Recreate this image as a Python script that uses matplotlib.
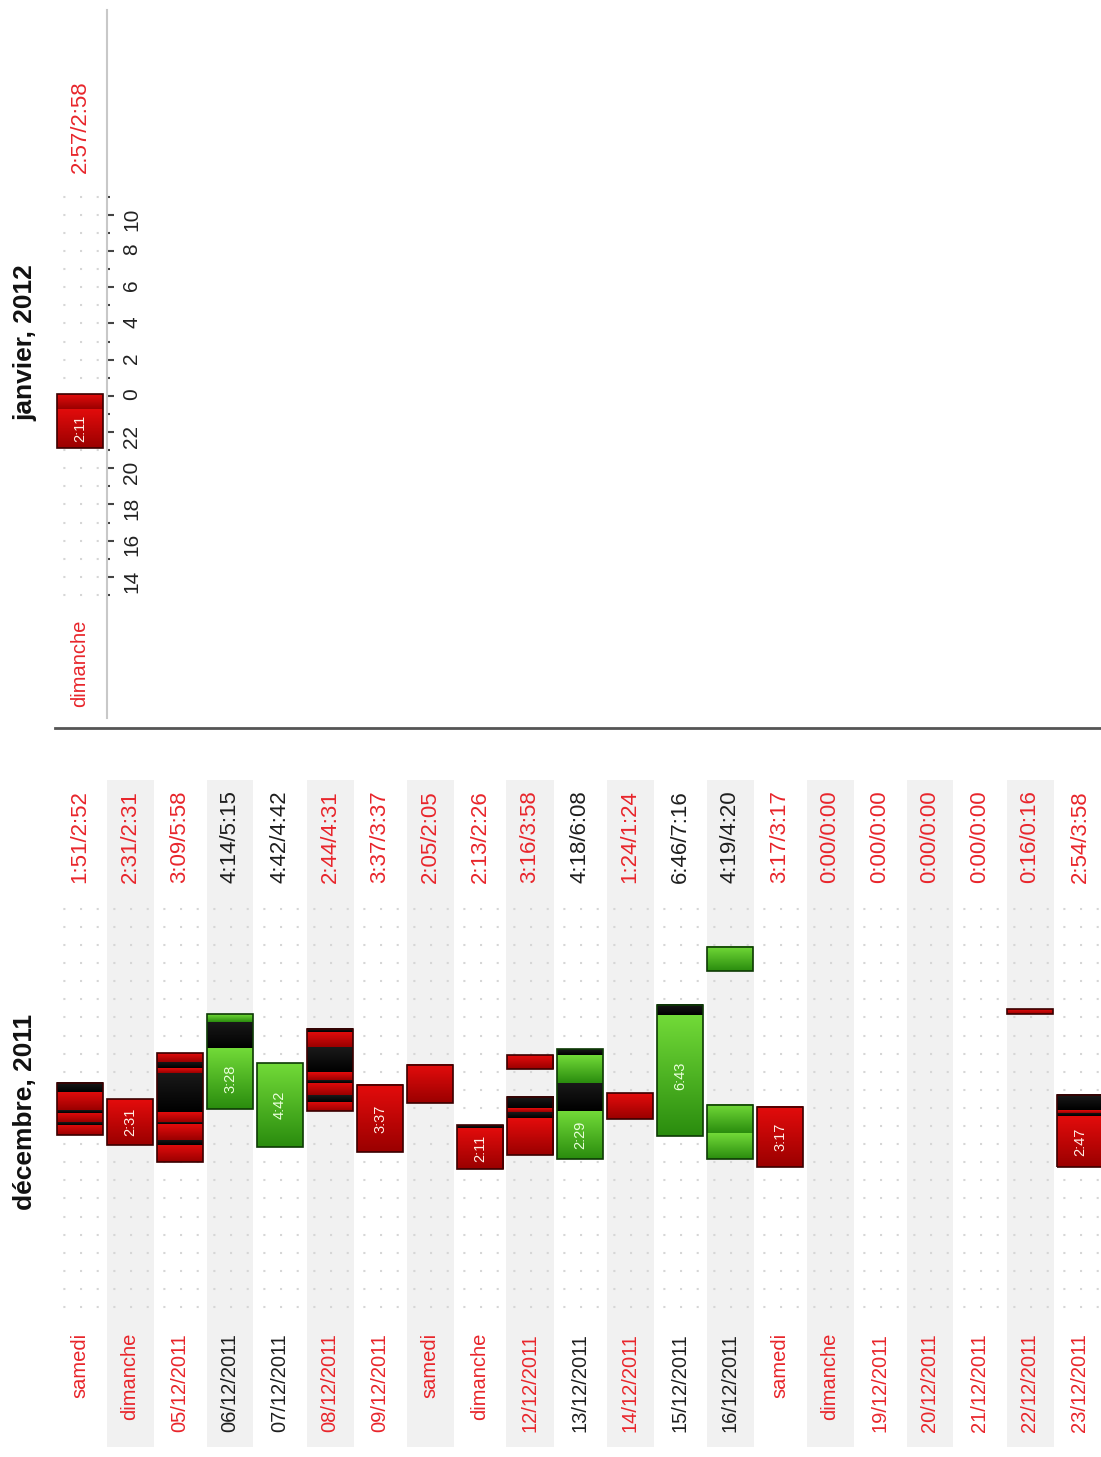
import numpy as np
import matplotlib
matplotlib.use("Agg")
import matplotlib.pyplot as plt
from matplotlib.colors import LinearSegmentedColormap
from matplotlib.transforms import blended_transform_factory
from matplotlib.lines import Line2D

plt.rcParams['font.family'] = ['Liberation Sans', 'DejaVu Sans']

# ---------------- data ----------------
dec_title = 'décembre, 2011'
dec_days = ['samedi', 'dimanche', '05/12/2011', '06/12/2011', '07/12/2011', '08/12/2011',
            '09/12/2011', 'samedi', 'dimanche', '12/12/2011', '13/12/2011', '14/12/2011',
            '15/12/2011', '16/12/2011', 'samedi', 'dimanche', '19/12/2011', '20/12/2011',
            '21/12/2011', '22/12/2011', '23/12/2011']
dec_totals = ['1:51/2:52', '2:31/2:31', '3:09/5:58', '4:14/5:15', '4:42/4:42', '2:44/4:31',
              '3:37/3:37', '2:05/2:05', '2:13/2:26', '3:16/3:58', '4:18/6:08', '1:24/1:24',
              '6:46/7:16', '4:19/4:20', '3:17/3:17', '0:00/0:00', '0:00/0:00', '0:00/0:00',
              '0:00/0:00', '0:16/0:16', '2:54/3:58']
dec_ok = [0, 0, 0, 1, 1, 0, 0, 0, 0, 0, 1, 0, 1, 1, 0, 0, 0, 0, 0, 0, 0]

# sleep segments (hours counted from midnight of the previous day; 24 = midnight)
dec_seg_day = [0, 0, 0, 0, 0, 0,
               1,
               2, 2, 2, 2, 2, 2, 2, 2, 2,
               3, 3, 3,
               4,
               5, 5, 5, 5, 5, 5, 5, 5,
               6,
               7,
               8, 8,
               9, 9, 9, 9, 9,
               10, 10, 10, 10,
               11,
               12, 12,
               13, 13, 13,
               14,
               19,
               20, 20, 20, 20]
dec_seg_start = [22.50, 23.06, 23.22, 23.72, 23.88, 24.88,
                 21.95,
                 21.01, 21.95, 22.23, 23.11, 23.22, 23.77, 25.93, 26.20, 26.54,
                 23.94, 27.31, 28.75,
                 21.84,
                 23.83, 24.33, 24.71, 25.38, 25.54, 25.98, 27.36, 28.19,
                 21.56,
                 24.27,
                 20.62, 22.90,
                 21.40, 23.44, 23.77, 23.99, 26.15,
                 21.18, 23.83, 25.38, 26.92,
                 23.39,
                 22.45, 29.13,
                 21.18, 22.61, 31.56,
                 20.73,
                 29.20,
                 20.73, 23.55, 23.72, 23.88]
dec_seg_end = [23.06, 23.22, 23.72, 23.88, 24.88, 25.38,
               24.49,
               21.95, 22.23, 23.11, 23.22, 23.77, 25.93, 26.20, 26.54, 27.03,
               27.31, 28.75, 29.19,
               26.48,
               24.33, 24.71, 25.38, 25.54, 25.98, 27.36, 28.19, 28.36,
               25.27,
               26.37,
               22.90, 23.06,
               23.44, 23.77, 23.99, 24.60, 26.92,
               23.83, 25.38, 26.92, 27.25,
               24.82,
               29.13, 29.69,
               22.61, 24.16, 32.89,
               24.05,
               29.47,
               23.55, 23.72, 23.88, 24.71]
dec_seg_kind = ['s', 'a', 's', 'a', 's', 'a',
                's',
                's', 'a', 's', 'a', 's', 'a', 's', 'a', 's',
                's', 'a', 's',
                's',
                's', 'a', 's', 'a', 's', 'a', 's', 'a',
                's',
                's',
                's', 'a',
                's', 'a', 's', 'a', 's',
                's', 'a', 's', 'a',
                's',
                's', 'a',
                's', 's', 's',
                's',
                's',
                's', 'a', 's', 'a']
dec_seg_label = ['', '', '', '', '', '',
                 '2:31',
                 '', '', '', '', '', '', '', '', '',
                 '3:28', '', '',
                 '4:42',
                 '', '', '', '', '', '', '', '',
                 '3:37',
                 '',
                 '2:11', '',
                 '', '', '', '', '',
                 '2:29', '', '', '',
                 '',
                 '6:43', '',
                 '', '', '',
                 '3:17',
                 '',
                 '2:47', '', '', '']

jan_title = 'janvier, 2012'
jan_days = ['dimanche']
jan_totals = ['2:57/2:58']
jan_ok = [0]
jan_seg_day = [0, 0]
jan_seg_start = [21.12, 23.30]
jan_seg_end = [23.30, 24.10]
jan_seg_kind = ['s', 's']
jan_seg_label = ['2:11', '']

hour_major = list(range(14, 35, 2))
hour_minor = list(range(13, 36))

# ---------------- styling ----------------
W, H = 1101, 1457
RED_TXT = '#e8252b'
BLK_TXT = '#1e1e1e'
cm_red = LinearSegmentedColormap.from_list('r', ['#9a0000', '#e40c0c'])
cm_green = LinearSegmentedColormap.from_list('g', ['#2a8c0e', '#72da38'])
cm_black = LinearSegmentedColormap.from_list('k', ['#000000', '#1a1a1a'])
grad = np.linspace(0, 1, 128).reshape(-1, 1)
BAR_W = 0.92

fig = plt.figure(figsize=(W / 100, H / 100), dpi=100)
fig.patch.set_facecolor('white')


def px_axes(x0, y0, x1, y1):
    """axes rectangle from pixel box (top-left origin)"""
    return fig.add_axes([x0 / W, 1 - y1 / H, (x1 - x0) / W, (y1 - y0) / H])


def draw_panel(ax, days, totals, ok, sd, ss, se, sk, sl, head_y, foot_y, stripes):
    n = len(days)
    trans = blended_transform_factory(ax.transData, ax.transAxes)
    if stripes:
        for i in range(n):
            if i % 2 == 1:
                ax.axvspan(i - 0.47, i + 0.47, color='#f1f1f1', lw=0, zorder=0)
    for h in hour_minor:
        ax.axhline(h, color='#d6d6d6', lw=1.5, ls=(4, (1, 7)), zorder=0.5)
    # segments with gradient fill
    for d, s, e, k, lab in zip(sd, ss, se, sk, sl):
        if k == 'a':
            cm = cm_black
        else:
            cm = cm_green if ok[d] else cm_red
        ax.imshow(grad, extent=(d - BAR_W / 2, d + BAR_W / 2, s, e), origin='lower',
                  aspect='auto', cmap=cm, vmin=0, vmax=1, interpolation='bilinear', zorder=2)
        if lab:
            ax.text(d, (s + e) / 2, lab, rotation=90, ha='center', va='center',
                    fontsize=10.5, color='#fff0e8' if not ok[d] else '#eaffdc', zorder=4)
    # outlines of contiguous bars
    order = sorted(range(len(sd)), key=lambda j: (sd[j], ss[j]))
    groups = []
    for j in order:
        if groups and groups[-1][0] == sd[j] and abs(groups[-1][2] - ss[j]) < 1e-6:
            groups[-1][2] = se[j]
        else:
            groups.append([sd[j], ss[j], se[j]])
    for d, s, e in groups:
        ax.bar(d, e - s, bottom=s, width=BAR_W, fill=False,
               edgecolor='#0d3a04' if ok[d] else '#3a0000', lw=1.2, zorder=3)
    # texts
    for i in range(n):
        col = BLK_TXT if ok[i] else RED_TXT
        ax.text(i, head_y, totals[i], transform=trans, rotation=90, ha='center',
                va='top', fontsize=16, color=col, clip_on=False)
        ax.text(i, foot_y, days[i], transform=trans, rotation=90, ha='center',
                va='top', fontsize=14.5, color=col, clip_on=False)


# ---- January panel ----
axj = px_axes(55, 10, 107, 718)
axj.set_xlim(-0.5, 0.54)
axj.set_ylim(6.204, 45.32)
draw_panel(axj, jan_days, jan_totals, jan_ok, jan_seg_day, jan_seg_start, jan_seg_end,
           jan_seg_kind, jan_seg_label, (718 - 80) / 708, (718 - 620) / 708, False)
for sp in ['left', 'top', 'bottom']:
    axj.spines[sp].set_visible(False)
axj.spines['right'].set_color('#c8c8c8')
axj.spines['right'].set_linewidth(1.5)
axj.set_xticks([])
axj.yaxis.tick_right()
axj.set_yticks(hour_major)
axj.set_yticklabels([str(h % 24) for h in hour_major])
axj.set_yticks(hour_minor, minor=True)
axj.tick_params(axis='y', which='major', length=5, width=1.5, color='#444444',
                labelrotation=90, labelsize=15, pad=6, labelcolor='#222222')
axj.tick_params(axis='y', which='minor', length=2, width=1.5, color='#444444')
axj.set_xlim(-0.5, 0.54)
axj.set_ylim(6.204, 45.32)

# ---- December panel ----
axd = px_axes(55, 780, 1105, 1447)
axd.set_xlim(-0.5, 20.5)
axd.set_ylim(5.265, 42.12)
draw_panel(axd, dec_days, dec_totals, dec_ok, dec_seg_day, dec_seg_start, dec_seg_end,
           dec_seg_kind, dec_seg_label, (1447 - 790) / 667, (1447 - 1333) / 667, True)
axd.axis('off')
axd.set_xlim(-0.5, 20.5)
axd.set_ylim(5.265, 42.12)

# separator line and titles
fig.add_artist(Line2D([55 / W, 1], [1 - 728 / H, 1 - 728 / H], transform=fig.transFigure,
                      color='#555555', lw=2))
fig.text(25 / W, 1 - 343 / H, jan_title, rotation=90, ha='center', va='center',
         fontsize=19, fontweight='bold', color='#111111')
fig.text(25 / W, 1 - 1112 / H, dec_title, rotation=90, ha='center', va='center',
         fontsize=19, fontweight='bold', color='#111111')

fig.savefig('out.png', dpi=100)
